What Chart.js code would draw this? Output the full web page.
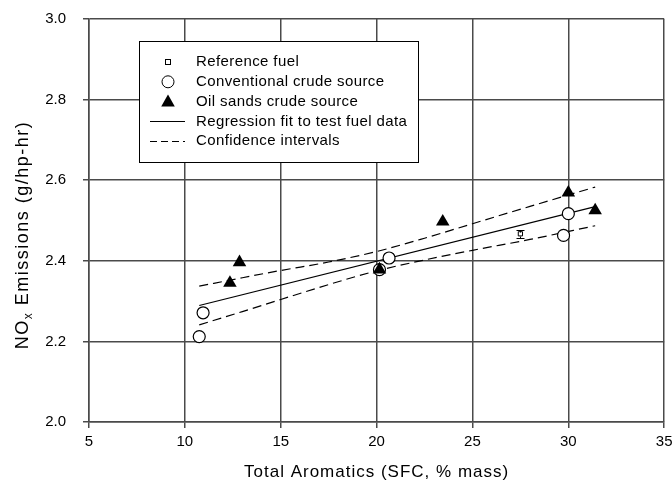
<!DOCTYPE html>
<html>
<head>
<meta charset="utf-8">
<script src="https://cdn.jsdelivr.net/npm/chart.js@4.4.1/dist/chart.umd.min.js"></script>
<style>
  html, body { margin: 0; padding: 0; background: #fff; }
  #wrap { width: 672px; height: 489px; }
</style>
</head>
<body>
<div id="wrap"><canvas id="chart" width="672" height="489"></canvas></div>
<script>
// reference fuel
const refX = [27.5];
const refY = [2.467];
const refErr = [0.01];

// conventional crude source
const convX = [10.75, 10.95, 20.15, 20.65, 29.75, 30.0];
const convY = [2.212, 2.271, 2.378, 2.407, 2.463, 2.517];

// oil sands crude source
const oilX = [12.35, 12.85, 20.15, 23.45, 30.0, 31.4];
const oilY = [2.345, 2.396, 2.378, 2.497, 2.569, 2.525];

// regression fit
const fitX = [10.75, 31.35];
const fitY = [2.289, 2.534];

// confidence intervals
const ciX = [10.75, 13, 15, 17.5, 20, 22.5, 25, 28, 31.4];
const ciUpper = [2.337, 2.358, 2.376, 2.397, 2.423, 2.456, 2.492, 2.535, 2.583];
const ciLower = [2.241, 2.274, 2.304, 2.341, 2.375, 2.402, 2.426, 2.453, 2.487];

const xTicks = [5, 10, 15, 20, 25, 30, 35];
const yTicks = [2.0, 2.2, 2.4, 2.6, 2.8, 3.0];

const legendItems = [
    { label: 'Reference fuel', kind: 'ref' },
    { label: 'Conventional crude source', kind: 'circle' },
    { label: 'Oil sands crude source', kind: 'tri' },
    { label: 'Regression fit to test fuel data', kind: 'line' },
    { label: 'Confidence intervals', kind: 'dash' }
];

const pts = (xs, ys) => xs.map((x, i) => ({ x: x, y: ys[i] }));
const FONT = '"Liberation Sans", Arial, sans-serif';
const gridColor = '#4a4a4a';

const errorBars = {
    id: 'errorBars',
    afterDatasetsDraw(chart) {
        const ctx = chart.ctx;
        const xs = chart.scales.x, ys = chart.scales.y;
        ctx.save();
        ctx.strokeStyle = '#000';
        ctx.lineWidth = 1;
        refX.forEach((x, i) => {
            const px = Math.round(xs.getPixelForValue(x)) + 0.5;
            const top = Math.round(ys.getPixelForValue(refY[i] + refErr[i])) + 0.5;
            const bot = Math.round(ys.getPixelForValue(refY[i] - refErr[i])) + 0.5;
            ctx.beginPath();
            ctx.moveTo(px - 4, top); ctx.lineTo(px + 4, top);
            ctx.moveTo(px - 4, bot); ctx.lineTo(px + 4, bot);
            ctx.moveTo(px, top); ctx.lineTo(px, top + 2);
            ctx.moveTo(px, bot); ctx.lineTo(px, bot - 2);
            ctx.stroke();
        });
        ctx.restore();
    }
};

const boxLegend = {
    id: 'boxLegend',
    afterDatasetsDraw(chart) {
        const ctx = chart.ctx;
        ctx.save();
        ctx.fillStyle = '#fff';
        ctx.fillRect(139.5, 41.5, 279, 121);
        ctx.strokeStyle = '#000';
        ctx.lineWidth = 1;
        ctx.strokeRect(139.5, 41.5, 279, 121);
        ctx.font = '15px ' + FONT;
        ctx.letterSpacing = '0.4px';
        ctx.textBaseline = 'middle';
        ctx.textAlign = 'left';
        legendItems.forEach((item, i) => {
            const y = 62 + i * 19.8;
            const cx = 168;
            ctx.fillStyle = '#000';
            ctx.strokeStyle = '#000';
            ctx.lineWidth = 1;
            ctx.setLineDash([]);
            if (item.kind === 'ref') {
                ctx.fillStyle = '#fff';
                ctx.fillRect(cx - 2, y - 2, 5, 5);
                ctx.strokeRect(cx - 2.5, y - 2.5, 5, 5);
            } else if (item.kind === 'circle') {
                ctx.fillStyle = '#fff';
                ctx.beginPath(); ctx.arc(cx, y, 6, 0, Math.PI * 2); ctx.fill(); ctx.stroke();
            } else if (item.kind === 'tri') {
                ctx.beginPath();
                ctx.moveTo(cx, y - 7);
                ctx.lineTo(cx + 6.8, y + 5);
                ctx.lineTo(cx - 6.8, y + 5);
                ctx.closePath(); ctx.fill();
            } else {
                if (item.kind === 'dash') ctx.setLineDash([7, 4]);
                ctx.beginPath();
                ctx.moveTo(150, Math.round(y) + 0.5); ctx.lineTo(185, Math.round(y) + 0.5);
                ctx.stroke();
                ctx.setLineDash([]);
            }
            ctx.fillStyle = '#000';
            ctx.fillText(item.label, 196, y);
        });
        ctx.restore();
    }
};

const axisTitles = {
    id: 'axisTitles',
    afterDraw(chart) {
        const ctx = chart.ctx;
        const area = chart.chartArea;
        ctx.save();
        ctx.fillStyle = '#000';
        ctx.textBaseline = 'middle';
        // x title
        ctx.font = '17px ' + FONT;
        ctx.letterSpacing = '1px';
        ctx.textAlign = 'center';
        ctx.fillText('Total Aromatics (SFC, % mass)', (area.left + area.right) / 2, 472);
        // y title with subscript
        const main1 = 'NO', sub = 'x', main2 = ' Emissions (g/hp-hr)';
        const big = '18px ' + FONT, small = '12px ' + FONT;
        ctx.letterSpacing = '1.5px';
        ctx.font = big; const w1 = ctx.measureText(main1).width; const w3 = ctx.measureText(main2).width;
        ctx.font = small; const w2 = ctx.measureText(sub).width;
        const total = w1 + w2 + w3;
        ctx.translate(23, 235);
        ctx.rotate(-Math.PI / 2);
        ctx.textAlign = 'left';
        let x0 = -total / 2;
        ctx.font = big; ctx.fillText(main1, x0, 0);
        ctx.font = small; ctx.fillText(sub, x0 + w1, 6);
        ctx.font = big; ctx.fillText(main2, x0 + w1 + w2, 0);
        ctx.restore();
    }
};

new Chart(document.getElementById('chart').getContext('2d'), {
    type: 'scatter',
    data: {
        datasets: [
            {
                label: 'Regression fit to test fuel data',
                type: 'line',
                data: pts(fitX, fitY),
                borderColor: '#000',
                borderWidth: 1.2,
                pointRadius: 0,
                fill: false,
                order: 5
            },
            {
                label: 'Upper confidence',
                type: 'line',
                data: pts(ciX, ciUpper),
                borderColor: '#000',
                borderWidth: 1.2,
                borderDash: [9, 5],
                pointRadius: 0,
                cubicInterpolationMode: 'monotone',
                fill: false,
                order: 5
            },
            {
                label: 'Lower confidence',
                type: 'line',
                data: pts(ciX, ciLower),
                borderColor: '#000',
                borderWidth: 1.2,
                borderDash: [9, 5],
                pointRadius: 0,
                cubicInterpolationMode: 'monotone',
                fill: false,
                order: 5
            },
            {
                label: 'Reference fuel',
                data: pts(refX, refY),
                pointStyle: 'rect',
                pointRadius: 3,
                backgroundColor: '#fff',
                borderColor: '#000',
                borderWidth: 1,
                order: 4
            },
            {
                label: 'Conventional crude source',
                data: pts(convX, convY),
                pointStyle: 'circle',
                pointRadius: 6,
                backgroundColor: '#fff',
                borderColor: '#000',
                borderWidth: 1.2,
                order: 3
            },
            {
                label: 'Oil sands crude source',
                data: pts(oilX, oilY),
                pointStyle: 'triangle',
                pointRadius: 7.8,
                backgroundColor: '#000',
                borderColor: '#000',
                borderWidth: 0,
                order: 2
            }
        ]
    },
    options: {
        responsive: false,
        animation: false,
        layout: { padding: { left: 0, right: 7, top: 19, bottom: 0 } },
        plugins: {
            legend: { display: false },
            tooltip: { enabled: false }
        },
        scales: {
            x: {
                type: 'linear',
                min: 5,
                max: 35,
                afterBuildTicks: (s) => { s.ticks = xTicks.map(v => ({ value: v })); },
                afterFit: (s) => { s.height = 67; s.paddingLeft = 0; s.paddingRight = 0; },
                grid: { color: gridColor, lineWidth: 1.5, tickLength: 6, drawTicks: true },
                border: { color: gridColor, width: 1.5 },
                ticks: {
                    color: '#000',
                    font: { family: FONT, size: 15 },
                    padding: 5,
                    maxRotation: 0,
                    callback: (v) => String(v)
                }
            },
            y: {
                type: 'linear',
                min: 2.0,
                max: 3.0,
                afterBuildTicks: (s) => { s.ticks = yTicks.map(v => ({ value: v })); },
                afterFit: (s) => { s.width = 89; s.paddingTop = 0; s.paddingBottom = 0; },
                grid: { color: gridColor, lineWidth: 1.5, tickLength: 6, drawTicks: true },
                border: { color: gridColor, width: 1.5 },
                ticks: {
                    color: '#000',
                    font: { family: FONT, size: 15 },
                    padding: 17,
                    callback: (v) => Number(v).toFixed(1)
                }
            }
        }
    },
    plugins: [errorBars, boxLegend, axisTitles]
});
</script>
</body>
</html>
